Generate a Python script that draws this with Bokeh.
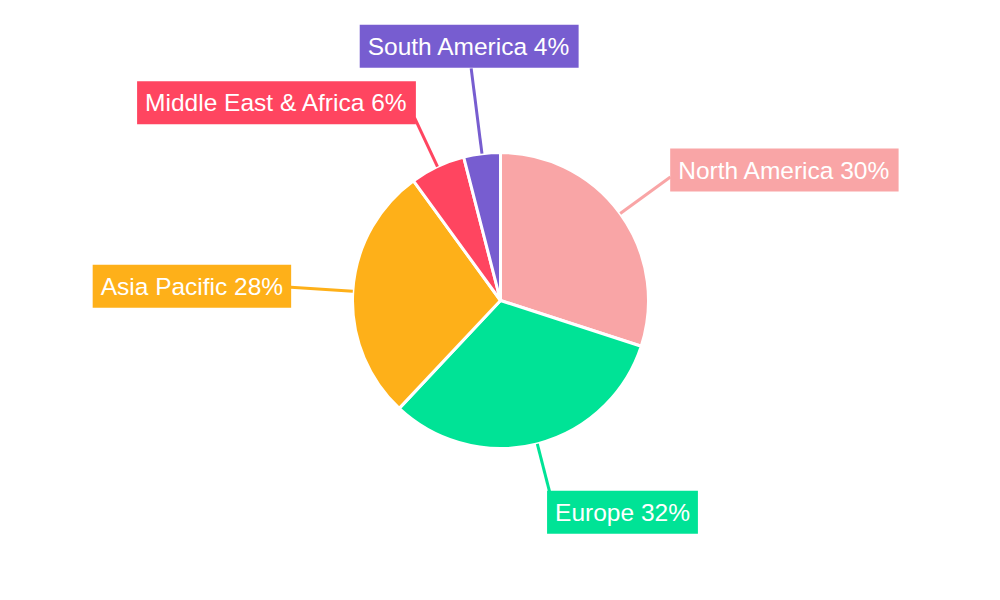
import math
from bokeh.plotting import figure
from bokeh.models import ColumnDataSource
from bokeh.core.properties import value
from bokeh.embed import file_html
from bokeh.resources import INLINE

regions = ["North America", "Europe", "Asia Pacific", "Middle East & Africa", "South America"]
shares = [30, 32, 28, 6, 4]
colors = ["#F9A5A6", "#00E396", "#FEB019", "#FF4560", "#775DD0"]

# layout: leader-line end radius and label box centre offset (px) per slice
leader_r = [210, 197, 210, 202, 234]
box_dx = [114, 73, -99, -138, -2]
box_dy = [7, -21, 1, 15, 22]

R = 148
total = sum(shares)
starts, ends, mids = [], [], []
cum = 0
for s in shares:
    a0 = cum / total
    cum += s
    a1 = cum / total
    starts.append(math.pi / 2 - a0 * 2 * math.pi)
    ends.append(math.pi / 2 - a1 * 2 * math.pi)
    mids.append(math.pi / 2 - (a0 + a1) / 2 * 2 * math.pi)

src = ColumnDataSource(dict(start=starts, end=ends, color=colors))

p = figure(width=984, height=584, x_range=(-500, 484), y_range=(-284, 300),
           output_backend="svg", toolbar_location=None, min_border=0,
           match_aspect=False)
p.axis.visible = False
p.grid.visible = False
p.outline_line_color = None
p.background_fill_color = "white"
p.border_fill_color = "white"

p.wedge(x=0, y=0, radius=R, start_angle="start", end_angle="end", direction="clock",
        fill_color="color", line_color="white", line_width=3, source=src)

lx0, ly0, lx1, ly1, tx, ty, labels = [], [], [], [], [], [], []
for i, m in enumerate(mids):
    c, s_ = math.cos(m), math.sin(m)
    lx0.append(R * c); ly0.append(R * s_)
    ex, ey = leader_r[i] * c, leader_r[i] * s_
    lx1.append(ex); ly1.append(ey)
    tx.append(ex + box_dx[i]); ty.append(ey + box_dy[i])
    labels.append(f"{regions[i]} {shares[i]}%")

p.segment(x0=lx0, y0=ly0, x1=lx1, y1=ly1, line_color=colors, line_width=3)

tsrc = ColumnDataSource(dict(x=tx, y=ty, text=labels, color=colors))
p.text(x="x", y="y", text="text", source=tsrc, text_color="white",
       text_font=value("Liberation Sans"), text_font_size="24.5px",
       text_align="center", text_baseline="middle",
       background_fill_color="color", padding=8)

open("out.html", "w").write(file_html(p, INLINE))
